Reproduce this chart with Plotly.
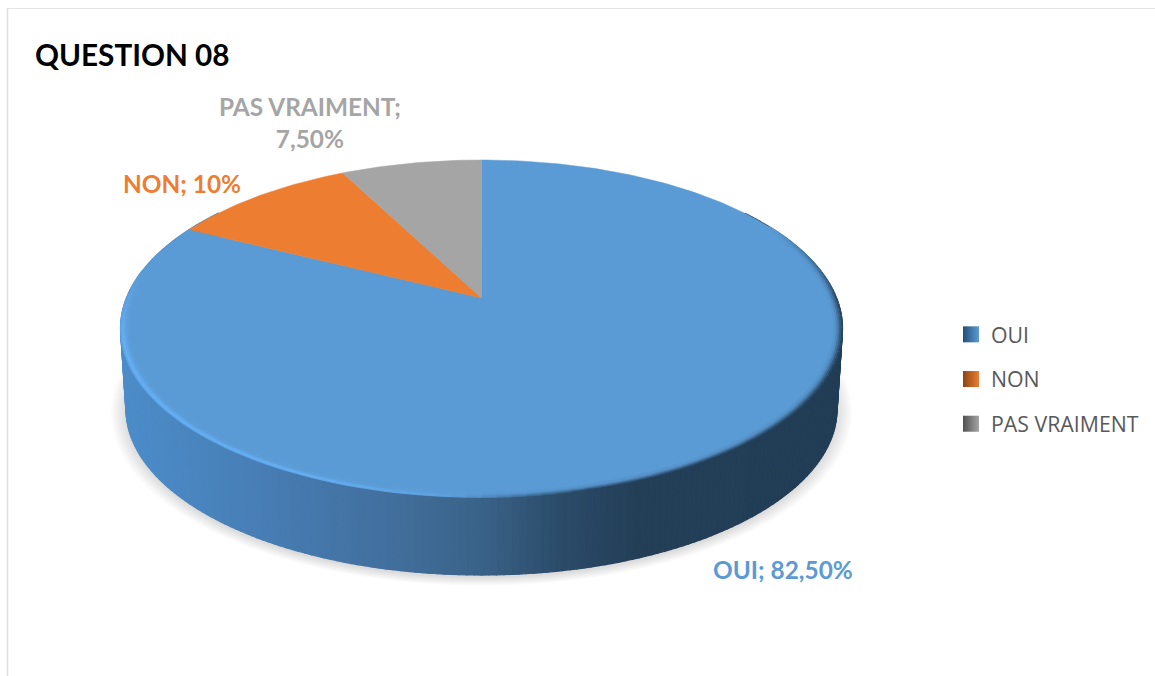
import numpy as np
import plotly.graph_objects as go

# Survey results
categories = ["OUI", "NON", "PAS VRAIMENT"]
values = [82.5, 10.0, 7.5]
value_labels = ["82,50%", "10%", "7,50%"]
slice_colors = ["#5b9bd5", "#ed7d31", "#a5a5a5"]
swatch_shades = ["#234f78", "#8a4515", "#505050"]
chart_title = "QUESTION 08"

WIDTH, HEIGHT = 1155, 676

# Perspective view of the disc
CX, CY = 481.5, 298.0
RX, RY = 355.0, 163.0
PERSP = 0.181
DEPTH = 81.0
BASE_SCALE = 0.985


def project(theta_deg, drop=0.0, scale=1.0):
    """Angle measured clockwise from twelve o'clock, returned in plot units."""
    t = np.radians(theta_deg)
    u, v = np.sin(t), np.cos(t)
    d = 1 + PERSP * v
    return CX + RX * scale * u / d, CY + drop - RY * scale * v / d


def hex_rgb(h):
    return np.array([int(h[i:i + 2], 16) for i in (1, 3, 5)], dtype=float)


def css(c):
    return "rgb(%d,%d,%d)" % tuple(np.round(c))


def poly(xs, ys, color, line=0.8):
    return go.Scatter(x=xs, y=ys, mode="lines", fill="toself", fillcolor=color,
                      line=dict(color=color, width=line), hoverinfo="skip",
                      showlegend=False)


fig = go.Figure()

# Soft ground shadow under the disc
full = np.linspace(0, 360, 181)
for i in range(12):
    sx, sy = project(full, DEPTH + 2.5, BASE_SCALE + 0.042 * (1 - i / 11))
    fig.add_trace(go.Scatter(x=sx, y=sy, mode="lines", fill="toself",
                             fillcolor="rgba(0,0,0,0.011)", line=dict(width=0),
                             hoverinfo="skip", showlegend=False))

# Side wall, shaded from left to right
wall_x = [120, 240, 380, 480, 560, 640, 850]
wall_rgb = np.array([hex_rgb(c) for c in
                     ["#4c8dca", "#4880b8", "#42709f", "#3a6388", "#2b4b69", "#233e57", "#223d56"]])
edges = np.linspace(55, 305, 251)
for a, b in zip(edges[:-1], edges[1:]):
    arc = np.array([a, b])
    tx, ty = project(arc)
    bx, by = project(arc, DEPTH, BASE_SCALE)
    mid = float(np.mean(np.r_[tx, bx]))
    c = css([np.interp(mid, wall_x, wall_rgb[:, k]) for k in range(3)])
    fig.add_trace(poly(np.r_[tx, bx[::-1], tx[0]], np.r_[ty, by[::-1], ty[0]], c, line=1.2))

# Top face slices, clockwise from twelve o'clock
bounds = np.r_[0, np.cumsum(values)] * 3.6
for i in range(len(values)):
    arc = np.linspace(bounds[i], bounds[i + 1], max(8, int(values[i] * 4)))
    ax, ay = project(arc)
    fig.add_trace(poly(np.r_[CX, ax, CX], np.r_[CY, ay, CY], slice_colors[i], line=0.5))

# Bevel on the rim: light on the lower left, dark on the right
base = hex_rgb(slice_colors[0])
light = hex_rgb("#66b2f8")
dark = hex_rgb("#223d56")
seg = np.linspace(62, 282, 111)
bands = [(0.9985, 0.45, 0.92), (0.9935, 0.9, 0.68), (0.9885, 0.65, 0.42),
         (0.9835, 0.3, 0.2), (0.9785, 0.1, 0.07)]
for s, hi_strength, lo_strength in bands:
    for a, b in zip(seg[:-1], seg[1:]):
        m = (a + b) / 2
        hi = np.interp(m, [178, 202, 255, 280], [0, 1, 1, 0])
        lo = np.interp(m, [62, 92, 165, 184], [0, 1, 1, 0])
        if hi <= 0 and lo <= 0:
            continue
        c = base + hi * hi_strength * (light - base) + lo * lo_strength * (dark - base)
        x, y = project(np.array([a, b]), 0, s)
        fig.add_trace(go.Scatter(x=x, y=y, mode="lines",
                                 line=dict(color=css(c), width=2.4),
                                 hoverinfo="skip", showlegend=False))

# Legend entries
for name, color, shade in zip(categories, slice_colors, swatch_shades):
    fig.add_trace(go.Scatter(x=[None], y=[None], mode="markers", name=name,
                             legendgroup=name,
                             marker=dict(symbol="square", size=16, color=shade,
                                         gradient=dict(type="horizontal", color=color))))

TEXT_FONT = "Lato"
LABEL_SIZE = 24.4
annotations = [
    dict(x=33, y=54, text="<b>%s</b>" % chart_title, xanchor="left", yanchor="middle",
         font=dict(family=TEXT_FONT, size=29.7, color="#000000")),
    dict(x=783, y=569, text="<b>%s; %s</b>" % (categories[0], value_labels[0]),
         xanchor="center", yanchor="middle",
         font=dict(family=TEXT_FONT, size=LABEL_SIZE, color=slice_colors[0])),
    dict(x=182, y=183, text="<b>%s; %s</b>" % (categories[1], value_labels[1]),
         xanchor="center", yanchor="middle",
         font=dict(family=TEXT_FONT, size=LABEL_SIZE, color=slice_colors[1])),
    dict(x=310, y=122, text="<b>%s;<br>%s</b>" % (categories[2], value_labels[2]),
         xanchor="center", yanchor="middle", align="center",
         font=dict(family=TEXT_FONT, size=LABEL_SIZE, color=slice_colors[2])),
]
for a in annotations:
    a.update(xref="x", yref="y", showarrow=False)

# Thin frame along the top and left of the chart area
frame = [
    dict(type="line", xref="x", yref="y", x0=7, x1=1155, y0=8.5, y1=8.5,
         line=dict(color="#e4e4e4", width=1.2)),
    dict(type="line", xref="x", yref="y", x0=7.5, x1=7.5, y0=8, y1=676,
         line=dict(color="#e0e0e0", width=1.6)),
]

fig.update_layout(
    width=WIDTH, height=HEIGHT,
    margin=dict(l=0, r=0, t=0, b=0),
    paper_bgcolor="white", plot_bgcolor="white",
    xaxis=dict(range=[0, WIDTH], visible=False, fixedrange=True),
    yaxis=dict(range=[HEIGHT, 0], visible=False, fixedrange=True),
    annotations=annotations, shapes=frame,
    legend=dict(x=951 / WIDTH, y=1 - 314 / HEIGHT, xanchor="left", yanchor="top",
                tracegroupgap=14, itemwidth=30, bgcolor="rgba(0,0,0,0)",
                font=dict(family="Open Sans", size=21.3, color="#595959")),
    showlegend=True,
)

fig.write_html("out.html")
